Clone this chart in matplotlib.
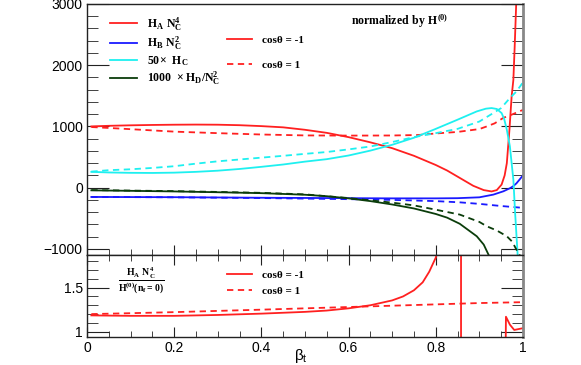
import numpy as np
import matplotlib
matplotlib.use("Agg")
from matplotlib import pyplot as plt
from matplotlib.ticker import MultipleLocator, FuncFormatter

plt.rcParams['font.family'] = ['Liberation Sans', 'DejaVu Sans']
plt.rcParams['mathtext.fontset'] = 'custom'
plt.rcParams['mathtext.rm'] = 'Liberation Serif:bold'
plt.rcParams['mathtext.sf'] = 'Liberation Sans'
plt.rcParams['mathtext.default'] = 'rm'

# ---- upper panel: coefficients normalized by H^(0) ----
# H_A N_C^4, cos(theta) = -1
beta_a_m = [0.01, 0.05, 0.1, 0.15, 0.2, 0.25, 0.3, 0.35, 0.4, 0.45, 0.5, 0.55, 0.6, 0.65,
            0.7, 0.75, 0.8, 0.826, 0.85, 0.886, 0.91, 0.928, 0.94, 0.951, 0.958, 0.963,
            0.969, 0.974, 0.978, 0.981, 0.985]
ha_m = [1000, 1010, 1018, 1024, 1028, 1030, 1028, 1020, 1005, 985, 945, 895, 825, 740,
        645, 520, 370, 280, 180, 30, -40, -62, -40, 50, 200, 400, 946, 1490, 1760, 2300,
        3100]
# H_A N_C^4, cos(theta) = 1
beta_a_p = [0.01, 0.05, 0.1, 0.15, 0.2, 0.3, 0.4, 0.5, 0.6, 0.7, 0.76, 0.8, 0.85, 0.9,
            0.917, 0.935, 0.955, 0.975, 0.99, 1.0]
ha_p = [990, 975, 955, 935, 915, 890, 868, 853, 850, 852, 860, 885, 910, 957,
        1000, 1050, 1140, 1195, 1240, 1270]
# H_B N_C^2
beta_b_m = [0.01, 0.2, 0.4, 0.6, 0.7, 0.8, 0.85, 0.9, 0.932, 0.955, 0.97, 0.977, 0.985,
            0.992, 1.0]
hb_m = [-152, -156, -165, -172, -175, -175, -172, -158, -114, -60, -10, 20, 70, 130, 200]
beta_b_p = [0.01, 0.2, 0.4, 0.6, 0.7, 0.8, 0.855, 0.9, 0.95, 1.0]
hb_p = [-152, -158, -170, -188, -200, -220, -240, -265, -300, -330]
# 50 x H_C
beta_c_m = [0.01, 0.05, 0.1, 0.15, 0.2, 0.25, 0.3, 0.35, 0.4, 0.45, 0.5, 0.55, 0.6, 0.65,
            0.7, 0.75, 0.8, 0.85, 0.894, 0.915, 0.928, 0.94, 0.951, 0.957, 0.963, 0.97,
            0.978, 0.982, 0.988]
hc_m = [258, 248, 242, 240, 245, 258, 277, 305, 340, 378, 425, 465, 525, 605,
        700, 815, 960, 1110, 1245, 1290, 1300, 1285, 1218, 1120, 946, 674,
        130, -410, -1120]
beta_c_p = [0.01, 0.05, 0.1, 0.15, 0.2, 0.25, 0.3, 0.35, 0.4, 0.45, 0.5, 0.55, 0.6, 0.65,
            0.7, 0.75, 0.8, 0.85, 0.9, 0.93, 0.95, 0.97, 0.985, 1.0]
hc_p = [262, 285, 300, 322, 350, 392, 430, 460, 490, 520, 552, 582, 625, 672,
        745, 825, 890, 960, 1080, 1210, 1300, 1463, 1570, 1720]
# 1000 x H_D / N_C^2
beta_d_m = [0.01, 0.1, 0.2, 0.3, 0.4, 0.5, 0.55, 0.6, 0.65, 0.7, 0.75, 0.8, 0.826, 0.855,
            0.894, 0.91, 0.922]
hd_m = [-44, -52, -62, -75, -90, -116, -140, -175, -220, -275, -340, -430, -490, -590,
        -794, -930, -1110]
beta_d_p = [0.01, 0.1, 0.2, 0.3, 0.4, 0.5, 0.6, 0.7, 0.75, 0.8, 0.855, 0.9, 0.917, 0.94,
            0.963, 0.975, 0.985, 0.993]
hd_p = [-40, -48, -57, -70, -85, -110, -170, -245, -290, -360, -440, -560, -631, -700,
        -794, -880, -1011, -1110]

# ---- lower panel: H_A N_C^4 / H^(0)(n_f=0) ----
beta_r_m = [0.01, 0.1, 0.2, 0.3, 0.4, 0.45, 0.5, 0.55, 0.6, 0.65, 0.7, 0.725, 0.75, 0.77,
            0.785, 0.8, 0.81, 0.83, 0.85, 0.857, 0.859, 0.87, 0.9, 0.95, 0.959, 0.961,
            0.97, 0.98, 0.99, 1.0]
ratio_m = [1.185, 1.18, 1.18, 1.19, 1.205, 1.215, 1.225, 1.24, 1.265, 1.30, 1.355, 1.40,
           1.47, 1.56, 1.68, 1.84, 2.0, 3.0, 10.0, 50.0, -50.0, -10.0, -3.0, -0.5, 0.2,
           1.17, 1.08, 1.02, 1.03, 1.04]
beta_r_p = [0.01, 0.1, 0.2, 0.3, 0.4, 0.5, 0.6, 0.7, 0.8, 0.9, 1.0]
ratio_p = [1.2, 1.21, 1.222, 1.236, 1.25, 1.265, 1.28, 1.295, 1.31, 1.325, 1.335]

x_labels = {0.0: '0', 0.2: '0.2', 0.4: '0.4', 0.6: '0.6', 0.8: '0.8', 1.0: '1'}

fig = plt.figure(figsize=(5.81, 3.65), dpi=100)
ax1 = fig.add_axes([0.1497, 0.3014, 0.7504, 0.6877])
ax2 = fig.add_axes([0.1497, 0.0767, 0.7504, 0.2247])

lw = 1.3
dash = (0, (3.5, 2.5))
l_a, = ax1.plot(beta_a_m, ha_m, color='#ff2020', lw=lw)
l_a2, = ax1.plot(beta_a_p, ha_p, color='#ff2020', lw=lw, ls=dash)
l_b, = ax1.plot(beta_b_m, hb_m, color='#1a1aff', lw=lw)
ax1.plot(beta_b_p, hb_p, color='#1a1aff', lw=lw, ls=dash)
l_c, = ax1.plot(beta_c_m, hc_m, color='#1ef0f0', lw=lw)
ax1.plot(beta_c_p, hc_p, color='#1ef0f0', lw=lw, ls=dash)
l_d, = ax1.plot(beta_d_m, hd_m, color='#0b3d0b', lw=lw)
ax1.plot(beta_d_p, hd_p, color='#0b3d0b', lw=lw, ls=dash)

r_m, = ax2.plot(beta_r_m, ratio_m, color='#ff2020', lw=lw)
r_p, = ax2.plot(beta_r_p, ratio_p, color='#ff2020', lw=lw, ls=dash)

ax1.set_xlim(0, 1)
ax1.set_ylim(-1100, 3000)
ax2.set_xlim(0, 1)
ax2.set_ylim(0.94, 1.87)

for ax in (ax1, ax2):
    ax.xaxis.set_major_locator(MultipleLocator(0.2))
    ax.xaxis.set_minor_locator(MultipleLocator(0.05))
    for s in ax.spines.values():
        s.set_color('#222222')
        s.set_linewidth(1.0)
    ax.spines['right'].set_color('#888888')
    ax.spines['right'].set_linewidth(2.0)
    ax.tick_params(axis='both', which='both', direction='in', labelsize=10, pad=3,
                   color='#222222')
    ax.tick_params(axis='x', which='major', length=7)
    ax.tick_params(axis='x', which='minor', length=4)
    ax.tick_params(axis='y', which='major', length=16, right=True)
    ax.tick_params(axis='y', which='minor', length=8, right=True)

ax1.yaxis.set_major_locator(MultipleLocator(1000))
ax1.yaxis.set_minor_locator(MultipleLocator(200))
ax1.tick_params(axis='x', which='both', labelbottom=False)
ax2.yaxis.set_major_locator(MultipleLocator(0.5))
ax2.yaxis.set_minor_locator(MultipleLocator(0.1))
ax2.tick_params(axis='x', which='both', top=True)
ax2.set_yticks([1, 1.5])
ax2.set_yticklabels(['1', '1.5'])
ax2.xaxis.set_major_formatter(FuncFormatter(lambda v, p: x_labels.get(round(v, 1), '')))

ax2.set_xlabel(r'$\mathsf{\beta_t}$', fontsize=11, labelpad=0)
ax2.xaxis.set_label_coords(0.49, -0.12)

lab_font = {'family': 'Liberation Serif', 'weight': 'bold', 'size': 8.5}
cos_font = {'family': 'Liberation Serif', 'weight': 'bold', 'size': 8}
leg1 = ax1.legend([l_a, l_b, l_c, l_d],
                  [r'$\mathrm{H_A\ N_C^4}$', r'$\mathrm{H_B\ N_C^2}$',
                   r'$\mathrm{50\!\times\ H_C}$', r'$\mathrm{1000\ \times H_D/N_C^2}$'],
                  loc='upper left', bbox_to_anchor=(0.053, 0.955), frameon=False,
                  borderpad=0, borderaxespad=0, handlelength=2.3, handletextpad=0.85,
                  labelspacing=0.15, prop=lab_font)
ax1.add_artist(leg1)
ax1.legend([l_a, l_a2], ['cosθ = -1', 'cosθ = 1'],
           loc='upper left', bbox_to_anchor=(0.321, 0.875), frameon=False,
           borderpad=0, borderaxespad=0, handlelength=2.3, handletextpad=0.85,
           labelspacing=1.35, prop=cos_font)
ax1.text(0.605, 0.93, r'$\mathrm{normalized\ by\ H^{(0)}}$', transform=ax1.transAxes,
         fontsize=8.5, va='center', ha='left')

ax2.legend([r_m, r_p], ['cosθ = -1', 'cosθ = 1'],
           loc='upper left', bbox_to_anchor=(0.321, 0.81), frameon=False,
           borderpad=0, borderaxespad=0, handlelength=2.3, handletextpad=0.85,
           labelspacing=0.53, prop=cos_font)
ax2.text(0.125, 0.70, r'$\frac{\mathrm{H_A\ N_C^4}}{\mathrm{H^{(0)}(n_f=0)}}$',
         transform=ax2.transAxes, fontsize=10, ha='center', va='center')

fig.savefig('out.png', dpi=100)
